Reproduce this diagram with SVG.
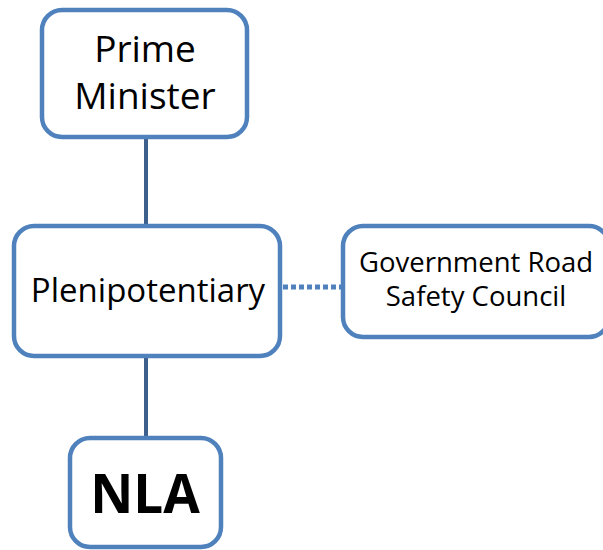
<svg xmlns="http://www.w3.org/2000/svg" width="603" height="550" viewBox="0 0 603 550">
  <style>
    .box { fill: #ffffff; stroke: #4f81bd; stroke-width: 4.5; }
    .label { font-family: "Open Sans", "Liberation Sans", sans-serif; fill: #000000; text-anchor: middle; }
    .link { stroke: #3c5f8c; stroke-width: 4; fill: none; }
    .dotted { stroke: #4f81bd; stroke-width: 5; stroke-dasharray: 5 3; fill: none; }
  </style>
  <rect width="603" height="550" fill="#ffffff"/>
  <g id="connectors">
    <line class="link" x1="146" y1="138" x2="146" y2="226"/>
    <line class="link" x1="146" y1="356" x2="146" y2="438"/>
    <line class="dotted" x1="283" y1="287" x2="342" y2="287"/>
  </g>
  <g id="prime-minister">
    <rect class="box" x="42" y="10" width="205" height="127" rx="20"/>
    <text class="label" x="145" y="62" font-size="37">Prime</text>
    <text class="label" x="145" y="109" font-size="37">Minister</text>
  </g>
  <g id="plenipotentiary">
    <rect class="box" x="14" y="226" width="266" height="130" rx="20"/>
    <text class="label" x="148" y="302" font-size="33">Plenipotentiary</text>
  </g>
  <g id="road-safety-council">
    <rect class="box" x="343" y="226" width="266" height="111" rx="20"/>
    <text class="label" x="476" y="272" font-size="27.5">Government Road</text>
    <text class="label" x="476" y="306" font-size="27.5">Safety Council</text>
  </g>
  <g id="nla">
    <rect class="box" x="70" y="438" width="151" height="109" rx="20"/>
    <text class="label" x="145" y="513" font-size="53" font-weight="bold">NLA</text>
  </g>
</svg>
